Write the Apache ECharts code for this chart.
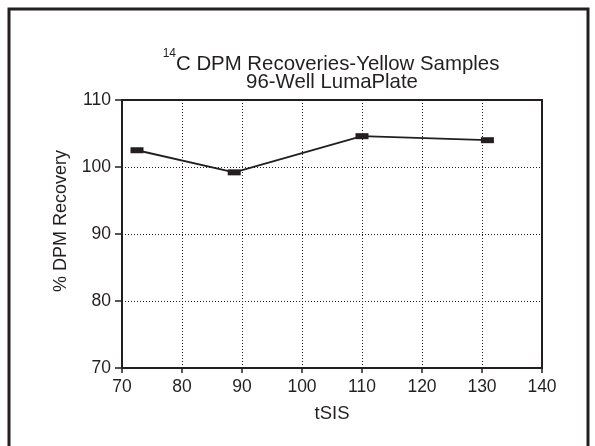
<!DOCTYPE html>
<html><head><meta charset="utf-8">
<script src="https://cdn.jsdelivr.net/npm/echarts@6/dist/echarts.min.js"></script>
<style>html,body{margin:0;padding:0;background:#fff}#c{width:595px;height:446px}</style>
</head><body><div id="c"></div>
<script>
const tsis = [72.5, 88.7, 110.0, 130.9];
const recovery = [102.5, 99.2, 104.6, 104.0];
const titleLine1 = 'C DPM Recoveries-Yellow Samples';
const titleSup = '14';
const titleLine2 = '96-Well LumaPlate';
const xName = 'tSIS';
const yName = '% DPM Recovery';

const ink = '#231f20';
const font = '"Liberation Sans", Arial, Helvetica, sans-serif';
const chart = echarts.init(document.getElementById('c'), null, {renderer: 'canvas'});
chart.setOption({
  backgroundColor: '#fff',
  animation: false,
  title: [{
    text: '{sup|' + titleSup + '}{main|' + titleLine1 + '}',
    left: 326, top: 48, textAlign: 'center',
    textStyle: {
      fontFamily: font, fontSize: 20.4, fontWeight: 'normal', color: ink,
      rich: {
        sup: { fontFamily: font, fontSize: 12, lineHeight: 12, color: ink, verticalAlign: 'bottom', padding: [0, 0, 14, 0] },
        main: { fontFamily: font, fontSize: 20.4, lineHeight: 21, color: ink, verticalAlign: 'bottom' }
      }
    }
  }, {
    text: titleLine2,
    left: 327, top: 67, textAlign: 'center',
    textStyle: { fontFamily: font, fontSize: 20.4, lineHeight: 21, fontWeight: 'normal', color: ink }
  }],
  grid: { left: 122, right: 53, top: 100, bottom: 78, show: true, borderColor: ink, borderWidth: 2, backgroundColor: 'transparent' },
  xAxis: {
    type: 'value', min: 70, max: 140, interval: 10,
    name: xName, nameLocation: 'middle', nameGap: 36,
    nameTextStyle: { fontFamily: font, fontSize: 18.5, color: ink },
    axisLine: { show: true, onZero: false, lineStyle: { color: ink, width: 2 } },
    axisTick: { show: true, length: 5, lineStyle: { color: ink, width: 1.5 } },
    axisLabel: { fontFamily: font, fontSize: 17.5, color: ink, margin: 10 },
    splitLine: { show: true, lineStyle: { color: ink, width: 1, type: [1, 2] } }
  },
  yAxis: {
    type: 'value', min: 70, max: 110, interval: 10,
    axisLine: { show: true, onZero: false, lineStyle: { color: ink, width: 2 } },
    axisTick: { show: true, length: 7, lineStyle: { color: ink, width: 1.5 } },
    axisLabel: { fontFamily: font, fontSize: 17.5, color: ink, margin: 11 },
    splitLine: { show: true, lineStyle: { color: ink, width: 1, type: [1, 2] } }
  },
  graphic: [
    { type: 'rect', shape: { x: 9, y: 9, width: 579, height: 460 }, style: { fill: 'none', stroke: ink, lineWidth: 3 }, silent: true },
    { type: 'text', x: 61, y: 221, rotation: Math.PI / 2,
      style: { text: yName, fontFamily: font, fontSize: 18, fill: ink, align: 'center', verticalAlign: 'middle' } }
  ],
  series: [{
    type: 'line',
    data: tsis.map((x, i) => [x, recovery[i]]),
    symbol: 'rect', symbolSize: [13, 6],
    lineStyle: { color: ink, width: 1.8 },
    itemStyle: { color: ink },
    z: 5
  }]
});
</script></body></html>
